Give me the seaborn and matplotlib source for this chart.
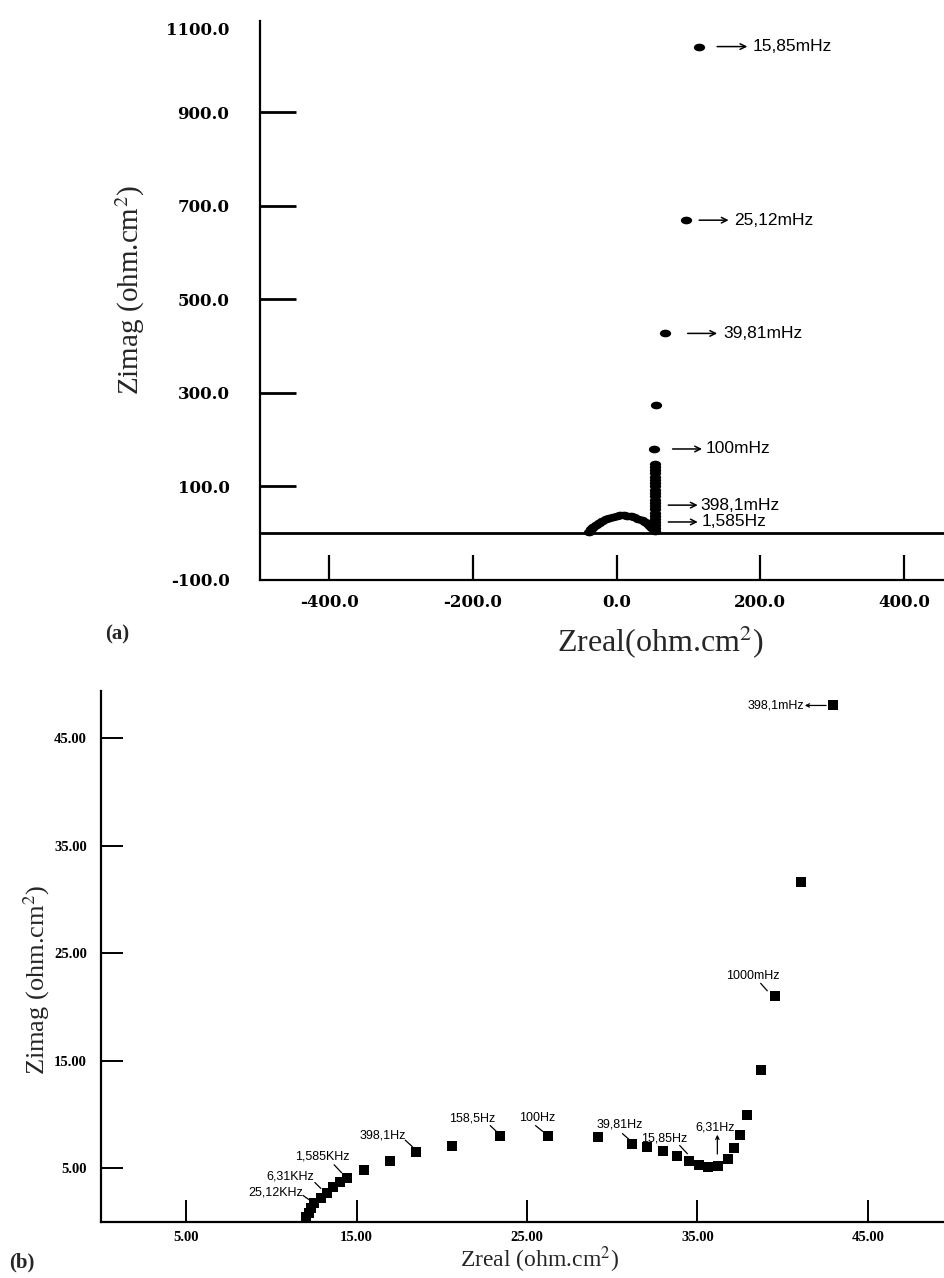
import matplotlib
matplotlib.use("Agg")
import matplotlib.pyplot as plt
import seaborn as sns
import pandas as pd
from matplotlib.path import Path
from matplotlib.transforms import Affine2D, ScaledTranslation

# ---------------- data: panel (a) ----------------
a_zreal = [-38, -36, -33, -29, -25, -20, -15, -10, -5, 0, 5, 10, 15, 20, 25, 30,
           35, 40, 44, 47, 50, 52, 53,
           53, 53, 53, 53, 53, 53, 53, 53, 53, 53, 53, 53, 53, 53, 53, 53, 53,
           53, 53, 53, 53,
           52, 55, 67, 96, 115]
a_zimag = [3, 8, 13, 18, 22, 26, 30, 33, 35, 37, 38, 38, 37, 36, 34, 31,
           28, 24, 20, 16, 12, 8, 4,
           12, 18, 24, 30, 37, 44, 51, 58, 65, 72, 79, 86, 93, 100, 107, 114, 121,
           128, 135, 142, 148,
           180, 274, 427, 669, 1040]

a_labels = ["15,85mHz", "25,12mHz", "39,81mHz", "100mHz", "398,1mHz", "1,585Hz"]
a_label_y = [1040, 669, 427, 180, 60, 24]
a_arrow_x0 = [140, 115, 99, 78, 72, 72]
a_arrow_x1 = [182, 156, 140, 119, 113, 113]
a_text_x = [189, 163, 148, 124, 116, 119]

a_xticks = [-400.0, -200.0, 0.0, 200.0, 400.0]
a_yticks = [-100.0, 100.0, 300.0, 500.0, 700.0, 900.0, 1100.0]

# ---------------- data: panel (b) ----------------
b_zreal = [12.05, 12.2, 12.35, 12.5, 12.9, 13.27, 13.63, 14.0, 14.43,
           15.43, 16.94, 18.47, 20.6, 23.42, 26.22, 29.18,
           31.19, 32.05, 33.0, 33.82, 34.49, 35.1, 35.65, 36.23, 36.77,
           37.14, 37.49, 37.89, 38.75, 39.55, 41.05, 42.93]
b_zimag = [0.45, 0.85, 1.3, 1.7, 2.2, 2.7, 3.23, 3.69, 4.07,
           4.85, 5.63, 6.48, 7.01, 7.94, 8.0, 7.85,
           7.22, 6.93, 6.6, 6.11, 5.64, 5.25, 5.08, 5.23, 5.8,
           6.82, 8.05, 9.96, 14.16, 21.06, 31.62, 48.07]

b_labels = ["25,12KHz", "6,31KHz", "1,585KHz", "398,1Hz", "158,5Hz", "100Hz",
            "39,81Hz", "15,85Hz", "6,31Hz", "1000mHz", "398,1mHz"]
b_text_xy = [(11.85, 2.75), (12.5, 4.2), (13.0, 6.05), (16.53, 8.05), (21.81, 9.6),
             (25.6, 9.65), (30.42, 9.05), (33.07, 7.75), (36.05, 8.75),
             (38.24, 22.9), (41.25, 48.07)]
b_text_ha = ["right", "right", "center", "center", "center", "center",
             "center", "center", "center", "center", "right"]
b_lead_from = [(11.85, 2.45), (12.55, 3.65), (13.68, 5.3), (17.85, 7.6), (22.84, 8.95),
               (25.5, 8.95), (30.6, 8.2), (33.96, 7.1), (36.17, 6.3),
               (38.71, 22.2), (42.55, 48.07)]
b_lead_to = [(12.3, 1.95), (12.9, 3.1), (14.12, 4.56), (18.29, 6.96), (23.24, 8.35),
             (25.92, 8.41), (30.99, 7.66), (34.41, 6.33), (36.17, 8.1),
             (39.1, 21.5), (41.3, 48.07)]
b_lead_style = ["-", "-", "-", "-", "-", "-", "-", "-", "->", "-", "->"]

b_ticks = [5.0, 15.0, 25.0, 35.0, 45.0]

df_a = pd.DataFrame({"Zreal": a_zreal, "Zimag": a_zimag})
df_b = pd.DataFrame({"Zreal": b_zreal, "Zimag": b_zimag})

# ---------------- style ----------------
sns.set_style("white")
plt.rcParams["font.family"] = ["Liberation Serif", "DejaVu Serif"]
plt.rcParams["mathtext.fontset"] = "stix"

W, H = 944, 1278
fig = plt.figure(figsize=(W / 100, H / 100), dpi=100)


def fx(px):
    return px / W


def fy(py):
    return 1 - py / H


# ---------------- panel (a) ----------------
a_top_px = 18.5
ax1 = fig.add_axes([fx(260), fy(580), fx(944 - 260), (580 - a_top_px) / H])
ellipse = Path.unit_circle().transformed(Affine2D().scale(1.0, 0.68))
sns.scatterplot(data=df_a, x="Zreal", y="Zimag", ax=ax1, color="black",
                marker=ellipse, s=66, linewidth=0, legend=False, clip_on=False)
ax1.set_xlim(-496, 455.6)
ax1.set_ylim(-100, 1100)
ax1.axhline(0, color="black", lw=2.0, zorder=1)
for s in ["top", "right"]:
    ax1.spines[s].set_visible(False)
for s in ["left", "bottom"]:
    ax1.spines[s].set_linewidth(1.6)
    ax1.spines[s].set_color("black")
ax1.spines["left"].set_bounds(-100, 1095)
ax1.set_xticks(a_xticks)
ax1.set_yticks(a_yticks)
ax1.set_xticklabels([f"{v:.1f}" for v in a_xticks])
ax1.set_yticklabels([f"{v:.1f}" for v in a_yticks])
ax1.tick_params(axis="y", direction="in", length=26, width=2.0, pad=22,
                left=True, colors="black")
ax1.tick_params(axis="x", direction="in", length=18, width=1.6, pad=10,
                bottom=True, colors="black")
for lab in ax1.get_xticklabels() + ax1.get_yticklabels():
    lab.set_fontfamily("DejaVu Serif")
    lab.set_fontweight("bold")
    lab.set_fontsize(12)
ax1.yaxis.get_major_ticks()[-1].tick1line.set_visible(False)
ax1.yaxis.get_major_ticks()[0].tick1line.set_visible(False)
top_lab = ax1.get_yticklabels()[-1]
top_lab.set_transform(top_lab.get_transform() +
                      ScaledTranslation(0, -7 / 72, fig.dpi_scale_trans))
ax1.set_xlabel("")
ax1.set_ylabel("")

for lab, y, x0, x1, xt in zip(a_labels, a_label_y, a_arrow_x0, a_arrow_x1, a_text_x):
    ax1.annotate("", xy=(x1, y), xytext=(x0, y),
                 arrowprops=dict(arrowstyle="->", lw=1.1, color="black",
                                 shrinkA=0, shrinkB=0, mutation_scale=10))
    ax1.text(xt, y, lab, ha="left", va="center", fontsize=12.5,
             family=["Liberation Sans", "DejaVu Sans"], color="black")

fig.text(fx(130), fy(290), "Zimag (ohm.cm$^2$)", rotation=90, ha="center",
         va="center", fontsize=21)
fig.text(fx(660), fy(642), "Zreal(ohm.cm$^2$)", ha="center", va="center",
         fontsize=23)
fig.text(fx(117), fy(634), "(a)", ha="center", va="center", fontsize=15,
         fontweight="bold")

# ---------------- panel (b) ----------------
ax2 = fig.add_axes([fx(101), fy(1221.7), fx(944 - 101), (1221.7 - 691.5) / H])
sns.scatterplot(data=df_b, x="Zreal", y="Zimag", ax=ax2, color="black",
                marker="s", s=42, linewidth=0, legend=False, clip_on=False)
ax2.set_xlim(0, 49.47)
ax2.set_ylim(0, 49.37)
for s in ["top", "right"]:
    ax2.spines[s].set_visible(False)
for s in ["left", "bottom"]:
    ax2.spines[s].set_linewidth(1.6)
    ax2.spines[s].set_color("black")
ax2.set_xticks(b_ticks)
ax2.set_yticks(b_ticks)
ax2.set_xticklabels([f"{v:.2f}" for v in b_ticks])
ax2.set_yticklabels([f"{v:.2f}" for v in b_ticks])
ax2.tick_params(axis="both", direction="in", length=16, width=1.4, colors="black")
ax2.tick_params(axis="x", pad=6.5, bottom=True)
ax2.tick_params(axis="y", pad=10, left=True)
for lab in ax2.get_xticklabels() + ax2.get_yticklabels():
    lab.set_fontweight("bold")
    lab.set_fontsize(10.5)
ax2.set_xlabel("")
ax2.set_ylabel("")

for lab, (tx, ty), ha, p0, p1, st in zip(b_labels, b_text_xy, b_text_ha,
                                          b_lead_from, b_lead_to, b_lead_style):
    ax2.text(tx, ty, lab, ha=ha, va="center", fontsize=9,
             family=["Liberation Sans Narrow", "Liberation Sans", "DejaVu Sans"],
             color="black")
    ax2.annotate("", xy=p1, xytext=p0,
                 arrowprops=dict(arrowstyle=st, lw=0.9, color="black",
                                 shrinkA=0, shrinkB=0, mutation_scale=6))

fig.text(fx(37), fy(980), "Zimag (ohm.cm$^2$)", rotation=90, ha="center",
         va="center", fontsize=19)
fig.text(fx(540), fy(1260), "Zreal (ohm.cm$^2$)", ha="center", va="center",
         fontsize=17)
fig.text(fx(22), fy(1262), "(b)", ha="center", va="center", fontsize=15,
         fontweight="bold")

fig.savefig("out.png", dpi=100, facecolor="white")
